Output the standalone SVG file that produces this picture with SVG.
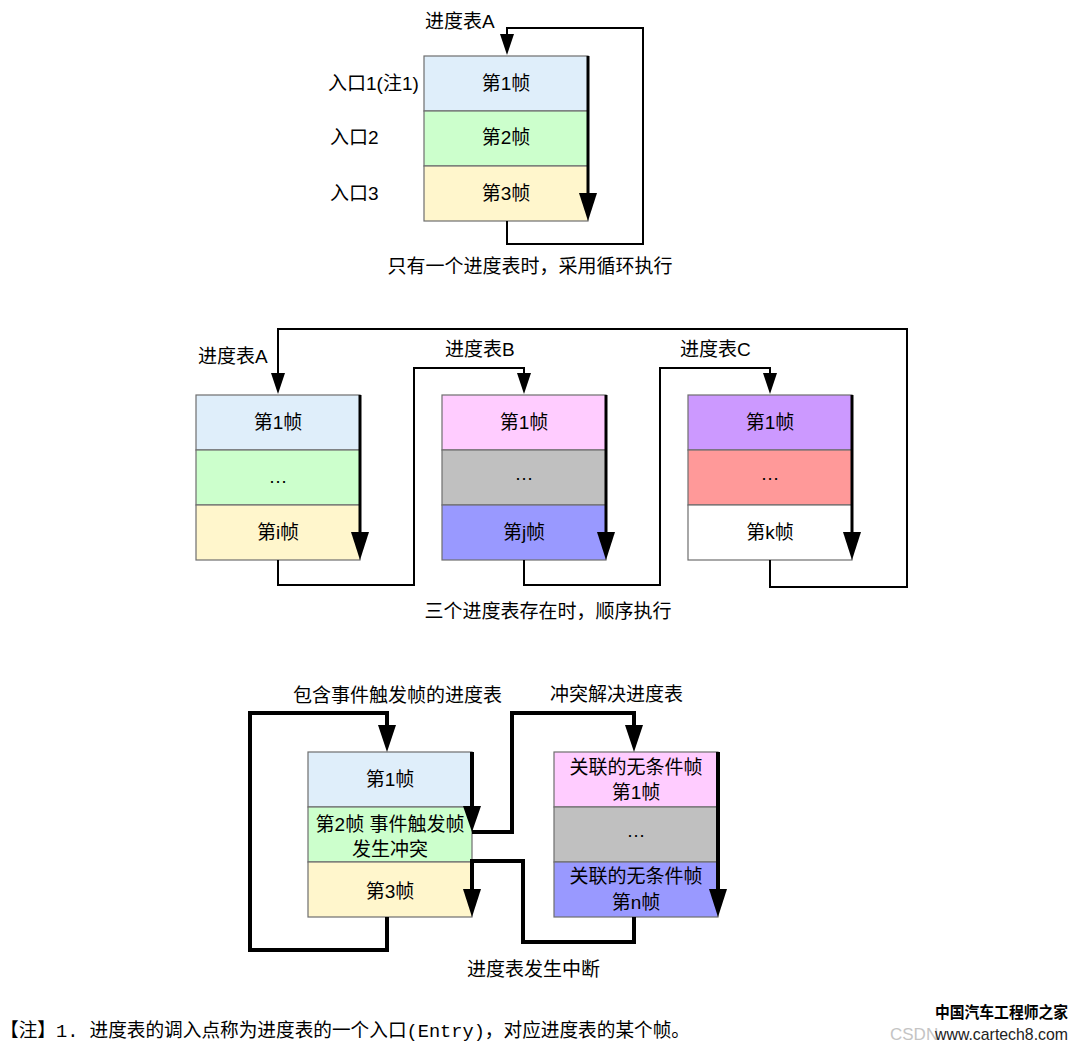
<svg xmlns="http://www.w3.org/2000/svg" width="1080" height="1052" viewBox="0 0 1080 1052">
<style>
text{font-family:"Liberation Sans","Noto Sans CJK SC",sans-serif;font-size:19px;fill:#000}
.c{text-anchor:middle}
.r{stroke:#6e6e6e;stroke-width:1.2}
.thin{fill:none;stroke:#000;stroke-width:2}
.thick{fill:none;stroke:#000;stroke-width:4}
.bar{fill:none;stroke:#000;stroke-width:3}
.hd{fill:#000}
.blue{fill:#dfeefa}.green{fill:#ccffcc}.yellow{fill:#fff6cc}.pink{fill:#ffccff}.gray{fill:#c0c0c0}.peri{fill:#9999ff}.purple{fill:#cc99ff}.salmon{fill:#ff9999}.white{fill:#ffffff}
</style>
<rect width="1080" height="1052" fill="#fff"/>

<!-- ===== Top diagram ===== -->
<g id="tableA1">
<rect class="r blue" x="424" y="56" width="164" height="55"/>
<rect class="r green" x="424" y="111" width="164" height="55"/>
<rect class="r yellow" x="424" y="166" width="164" height="55"/>
<text class="c" x="506" y="90">第1帧</text>
<text class="c" x="506" y="144">第2帧</text>
<text class="c" x="506" y="200">第3帧</text>
</g>
<g id="labelsTop">
<text x="425" y="28">进度表A</text>
<text x="328" y="90">入口1(注1)</text>
<text x="330" y="144">入口2</text>
<text x="330" y="200">入口3</text>
<text class="c" x="530" y="273">只有一个进度表时，采用循环执行</text>
</g>

<!-- ===== Middle diagram ===== -->
<g id="tableA">
<rect class="r blue" x="196" y="395" width="164" height="55"/>
<rect class="r green" x="196" y="450" width="164" height="55"/>
<rect class="r yellow" x="196" y="505" width="164" height="55"/>
<text class="c" x="278" y="429">第1帧</text>
<text class="c" x="278" y="483">…</text>
<text class="c" x="278" y="539">第i帧</text>
</g>
<g id="tableB">
<rect class="r pink" x="442" y="395" width="164" height="55"/>
<rect class="r gray" x="442" y="450" width="164" height="55"/>
<rect class="r peri" x="442" y="505" width="164" height="55"/>
<text class="c" x="524" y="429">第1帧</text>
<text class="c" x="524" y="480">…</text>
<text class="c" x="524" y="539">第j帧</text>
</g>
<g id="tableC">
<rect class="r purple" x="688" y="395" width="164" height="55"/>
<rect class="r salmon" x="688" y="450" width="164" height="55"/>
<rect class="r white" x="688" y="505" width="164" height="55"/>
<text class="c" x="770" y="429">第1帧</text>
<text class="c" x="770" y="480">…</text>
<text class="c" x="770" y="539">第k帧</text>
</g>
<g id="labelsMid">
<text x="198" y="363">进度表A</text>
<text x="445" y="356">进度表B</text>
<text x="680" y="356">进度表C</text>
<text class="c" x="548" y="618">三个进度表存在时，顺序执行</text>
</g>

<!-- ===== Bottom diagram ===== -->
<g id="tableEvent">
<rect class="r blue" x="308" y="752" width="164" height="55"/>
<rect class="r green" x="308" y="807" width="164" height="55"/>
<rect class="r yellow" x="308" y="862" width="164" height="55"/>
<text class="c" x="390" y="786">第1帧</text>
<text class="c" x="390" y="831">第2帧 事件触发帧</text>
<text class="c" x="390" y="856">发生冲突</text>
<text class="c" x="390" y="898">第3帧</text>
</g>
<g id="tableResolve">
<rect class="r pink" x="554" y="752" width="164" height="55"/>
<rect class="r gray" x="554" y="807" width="164" height="55"/>
<rect class="r peri" x="554" y="862" width="164" height="55"/>
<text class="c" x="636" y="774">关联的无条件帧</text>
<text class="c" x="636" y="799">第1帧</text>
<text class="c" x="636" y="837">…</text>
<text class="c" x="636" y="883">关联的无条件帧</text>
<text class="c" x="636" y="909">第n帧</text>
</g>
<g id="labelsBottom">
<text x="293" y="702">包含事件触发帧的进度表</text>
<text x="550" y="701">冲突解决进度表</text>
<text x="467" y="976">进度表发生中断</text>
</g>

<!-- ===== Connectors ===== -->
<g id="connectors">
<!-- top -->
<line class="bar" x1="588" y1="56" x2="588" y2="196"/>
<polygon class="hd" points="579,193 597,193 588,221"/>
<path class="thin" d="M507,221 V244 H643 V28 H507 V36"/>
<polygon class="hd" points="500,34 514,34 507,55"/>
<!-- middle -->
<line class="bar" x1="360" y1="395" x2="360" y2="535"/>
<polygon class="hd" points="351,532 369,532 360,560"/>
<line class="bar" x1="606" y1="395" x2="606" y2="535"/>
<polygon class="hd" points="597,532 615,532 606,560"/>
<line class="bar" x1="852" y1="395" x2="852" y2="535"/>
<polygon class="hd" points="843,532 861,532 852,560"/>
<path class="thin" d="M278,560 V585 H414 V368 H524 V375"/>
<polygon class="hd" points="517,373 531,373 524,394"/>
<path class="thin" d="M524,560 V585 H660 V368 H770 V375"/>
<polygon class="hd" points="763,373 777,373 770,394"/>
<path class="thin" d="M770,560 V587 H907 V329 H278 V375"/>
<polygon class="hd" points="271,373 285,373 278,394"/>
<!-- bottom -->
<path class="thick" d="M387,917 V950 H250 V713 H387 V728"/>
<polygon class="hd" points="378,725 396,725 387,752"/>
<line class="thick" x1="472" y1="752" x2="472" y2="810"/>
<polygon class="hd" points="463,806 481,806 472,832"/>
<path class="thick" d="M472,832 H512 V713 H634 V728"/>
<polygon class="hd" points="625,725 643,725 634,752"/>
<path class="thick" d="M634,917 V942 H523 V861 H472 V892"/>
<polygon class="hd" points="463,889 481,889 472,917"/>
<line class="thick" x1="718" y1="752" x2="718" y2="892"/>
<polygon class="hd" points="709,889 727,889 718,917"/>
</g>

<!-- footnote & watermark -->
<g id="footnote">
<text x="0" y="1037" textLength="690" lengthAdjust="spacingAndGlyphs" style="font-family:'Liberation Mono','Noto Sans CJK SC',monospace">【注】1. 进度表的调入点称为进度表的一个入口(Entry)，对应进度表的某个帧。</text>
</g>
<g id="watermark">
<text x="890" y="1040" style="font-size:17px;fill:#c4c4c4">CSDN</text>
<text x="935" y="1018" textLength="133" lengthAdjust="spacingAndGlyphs" style="font-size:16px;font-weight:bold">中国汽车工程师之家</text>
<text x="935" y="1040" textLength="133" lengthAdjust="spacingAndGlyphs" style="font-size:17px;fill:#222">www.cartech8.com</text>
</g>
</svg>
